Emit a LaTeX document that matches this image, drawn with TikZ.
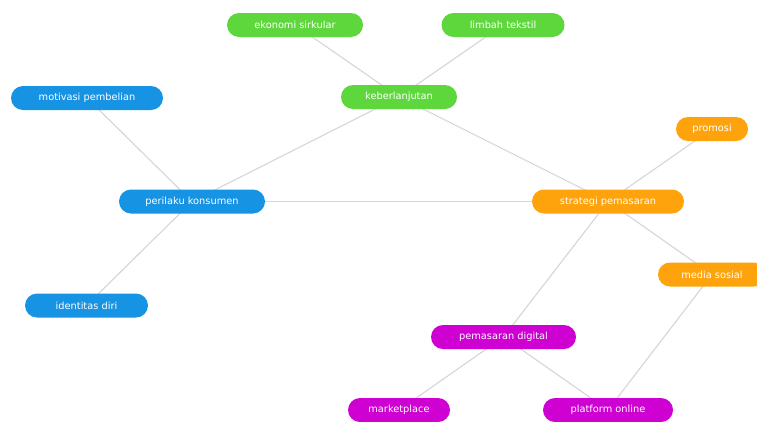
\documentclass[tikz,border=0pt]{standalone}
\usepackage{fontspec}
\setmainfont{DejaVu Sans}
\usetikzlibrary{backgrounds}

\begin{document}
\begin{tikzpicture}[x=1pt,y=-1pt,
	topic/.style={rounded corners=12pt,minimum height=24pt,inner sep=0pt,text=white,font=\fontsize{9.8}{11}\selectfont},
	link/.style={draw=linegray,line width=1.1pt}]
			\definecolor{topicgreen}{HTML}{5DD73C}
			\definecolor{topicblue}{HTML}{1793E4}
			\definecolor{topicorange}{HTML}{FFA30C}
			\definecolor{topicmagenta}{HTML}{CE00D2}
			\definecolor{linegray}{HTML}{D6D6D6}
			\useasboundingbox (0,0) rectangle (757,421);
			% keberlanjutan
			\node[topic,fill=topicgreen,minimum width=116pt] (keberlanjutan) at (399,97) {keberlanjutan};
			\node[topic,fill=topicgreen,minimum width=136pt] (ekonomi) at (295,25) {ekonomi sirkular};
			\node[topic,fill=topicgreen,minimum width=123pt] (limbah) at (503,25) {limbah tekstil};
			% perilaku konsumen
			\node[topic,fill=topicblue,minimum width=146pt] (perilaku) at (192,201.5) {perilaku konsumen};
			\node[topic,fill=topicblue,minimum width=152pt] (motivasi) at (87,98) {motivasi pembelian};
			\node[topic,fill=topicblue,minimum width=123pt] (identitas) at (86.5,305.5) {identitas diri};
			% strategi pemasaran
			\node[topic,fill=topicorange,minimum width=152pt] (strategi) at (608,201.5) {strategi pemasaran};
			\node[topic,fill=topicorange,minimum width=72pt] (promosi) at (712,129) {promosi};
			\node[topic,fill=topicorange,minimum width=108pt] (media) at (712,274.5) {media sosial};
			% pemasaran digital
			\node[topic,fill=topicmagenta,minimum width=145pt] (digital) at (503.5,337) {pemasaran digital};
			\node[topic,fill=topicmagenta,minimum width=102pt] (marketplace) at (399,410) {marketplace};
			\node[topic,fill=topicmagenta,minimum width=130pt] (platform) at (608,410) {platform online};

			% Verbindungen
			\begin{scope}[on background layer]
			\fill[white] (0,0) rectangle (757,421);
			\draw[link] (ekonomi.center) -- (keberlanjutan.center) -- (limbah.center);
			\draw[link] (perilaku.center) -- (keberlanjutan.center) -- (strategi.center);
			\draw[link] (motivasi.center) -- (perilaku.center) -- (identitas.center);
			\draw[link] (perilaku.center) -- (strategi.center);
			\draw[link] (promosi.center) -- (strategi.center) -- (media.center);
			\draw[link] (strategi.center) -- (digital.center);
			\draw[link] (marketplace.center) -- (digital.center) -- (platform.center);
			\draw[link] (media.center) -- (platform.center);
			\end{scope}
\end{tikzpicture}
\end{document}
